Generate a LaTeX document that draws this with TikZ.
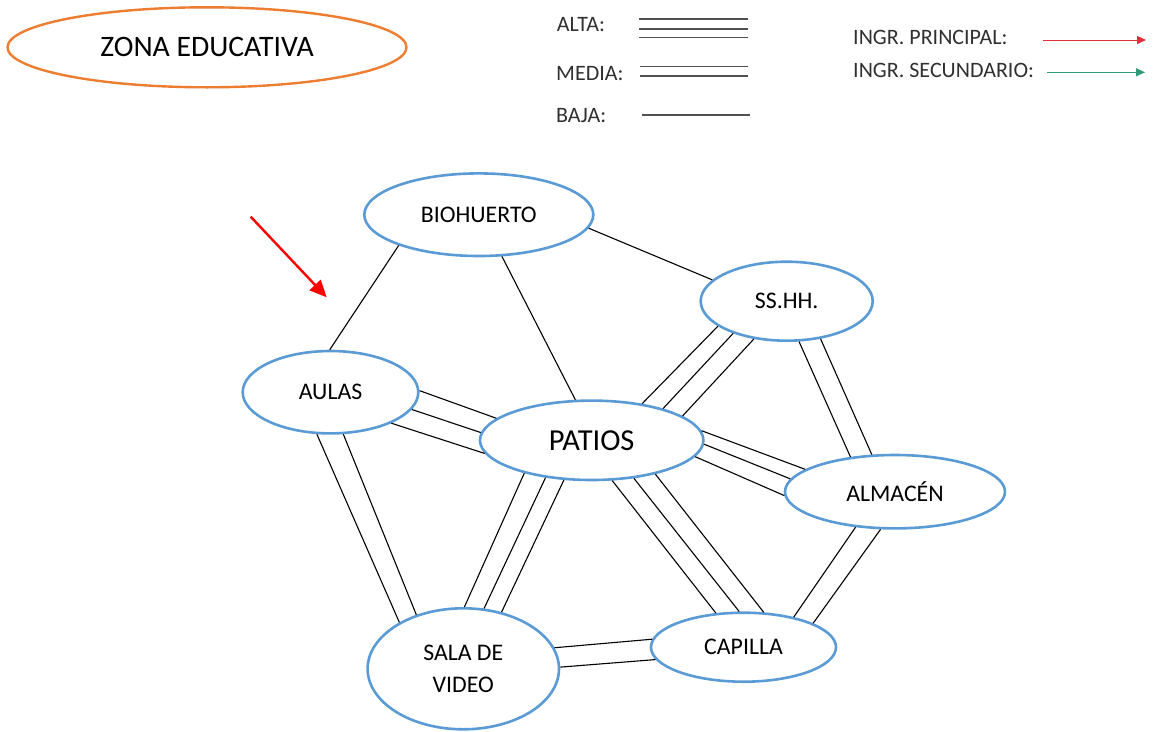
\documentclass[tikz,border=0pt]{standalone}
\usepackage{fontspec}
\setmainfont{Carlito}
\usetikzlibrary{shapes.geometric,arrows.meta}
\definecolor{nodeblue}{HTML}{5B9BD5}
\definecolor{zonaorange}{HTML}{ED7D31}
\definecolor{legendgray}{HTML}{303030}
\definecolor{legendline}{HTML}{505050}
\definecolor{ingrred}{HTML}{E0303C}
\definecolor{ingrgreen}{HTML}{2E9A78}
\definecolor{arrowred}{HTML}{FF0000}
\begin{document}
\begin{tikzpicture}[x=1pt,y=-1pt,
  zone/.style={ellipse, draw=nodeblue, line width=2.6pt, fill=white, inner sep=0pt,
    text=black, font=\fontsize{23.8}{32}\selectfont, align=center},
  conn/.style={draw=black, line width=1.1pt},
  legendtxt/.style={text=legendgray, font=\fontsize{22}{24}\selectfont, inner sep=0pt, anchor=base west},
  legendln/.style={draw=legendline, line width=1.2pt},
  ingr/.style={line width=1pt, -{Triangle[length=9pt,width=8pt]}}
]
\useasboundingbox (0,0) rectangle (1153,731);

% title
\node[ellipse, draw=zonaorange, line width=2.4pt, fill=white, inner sep=0pt,
  minimum width=399pt, minimum height=80pt, font=\fontsize{29.7}{32}\selectfont]
  (zona) at (207,47.3) {ZONA EDUCATIVA};

% legend
\node[legendtxt] (lalta) at (556.7,31.7) {ALTA:};
\node[legendtxt] (lmedia) at (556,80) {MEDIA:};
\node[legendtxt] (lbaja) at (556,122) {BAJA:};
\node[legendtxt] (lprin) at (853,44) {INGR. PRINCIPAL:};
\node[legendtxt] (lsec) at (853,77.3) {INGR. SECUNDARIO:};
\draw[legendln] (639,19) -- (748,19);
\draw[legendln] (639,29) -- (748,29);
\draw[legendln] (639,37.3) -- (748,37.3);
\draw[legendln] (640,66.7) -- (748,66.7);
\draw[legendln] (640,76) -- (748,76);
\draw[legendln] (642,115) -- (750,115);
\coordinate (prinA) at (1043,40);
\coordinate (prinB) at (1146,40);
\coordinate (secA) at (1047,72.3);
\coordinate (secB) at (1145,72.3);
\draw[ingr, draw=ingrred, fill=ingrred] (prinA) -- (prinB);
\draw[ingr, draw=ingrgreen, fill=ingrgreen] (secA) -- (secB);

% nodes
\node[zone, minimum width=229pt, minimum height=82.6pt] (bio) at (478.8,214.7) {BIOHUERTO};
\node[zone, minimum width=175.6pt, minimum height=82.4pt] (aulas) at (330.5,392.2) {AULAS};
\node[zone, minimum width=172pt, minimum height=79pt] (sshh) at (786.7,301.2) {SS.HH.};
\node[zone, minimum width=223.4pt, minimum height=79.4pt, font=\fontsize{30.5}{32}\selectfont] (patios) at (591.7,440.3) {PATIOS};
\node[zone, minimum width=220pt, minimum height=73.4pt] (alm) at (895,491.7) {ALMACÉN};
\node[zone, minimum width=191.4pt, minimum height=121pt] (sala) at (463.3,668.8) {SALA DE\\VIDEO};
\node[zone, minimum width=185pt, minimum height=69pt] (cap) at (743.5,647.2) {CAPILLA};

% connectors: BIOHUERTO
\draw[conn] (bio.201) -- (aulas.91);
\draw[conn] (bio.299) -- (patios.112);
\draw[conn] (bio.-7) -- (sshh.164);
% AULAS - PATIOS (alta)
\draw[conn] (aulas.1) -- (patios.167);
\draw[conn] (aulas.-12) -- (patios.176);
\draw[conn] (aulas.-27) -- (patios.187);
% AULAS - SALA (media)
\draw[conn] (aulas.252) -- (sala.144);
\draw[conn] (aulas.287) -- (sala.131);
% PATIOS - SALA (alta)
\draw[conn] (patios.206) -- (sala.89);
\draw[conn] (patios.219) -- (sala.71);
\draw[conn] (patios.235) -- (sala.56);
% PATIOS - SS.HH. (alta)
\draw[conn] (patios.36) -- (sshh.200);
\draw[conn] (patios.24) -- (sshh.211);
\draw[conn] (patios.15) -- (sshh.229);
% SS.HH. - ALMACEN (media)
\draw[conn] (sshh.287) -- (alm.142);
\draw[conn] (sshh.312) -- (alm.122);
% PATIOS - ALMACEN (alta)
\draw[conn] (patios.5) -- (alm.166);
\draw[conn] (patios.-2) -- (alm.173);
\draw[conn] (patios.-9) -- (alm.182);
% PATIOS - CAPILLA (alta)
\draw[conn] (patios.297) -- (cap.129);
\draw[conn] (patios.318) -- (cap.97);
\draw[conn] (patios.332) -- (cap.60);
% ALMACEN - CAPILLA (media)
\draw[conn] (alm.222) -- (cap.31);
\draw[conn] (alm.249) -- (cap.19);
% SALA - CAPILLA (media)
\draw[conn] (sala.13) -- (cap.175);
\draw[conn] (sala.1) -- (cap.188);

% main entrance arrow
\coordinate (entA) at (250.7,216.7);
\coordinate (entB) at (326.7,297.3);
\draw[draw=arrowred, fill=arrowred, line width=2.4pt, -{Triangle[length=17pt,width=15pt]}] (entA) -- (entB);
\end{tikzpicture}
\end{document}
